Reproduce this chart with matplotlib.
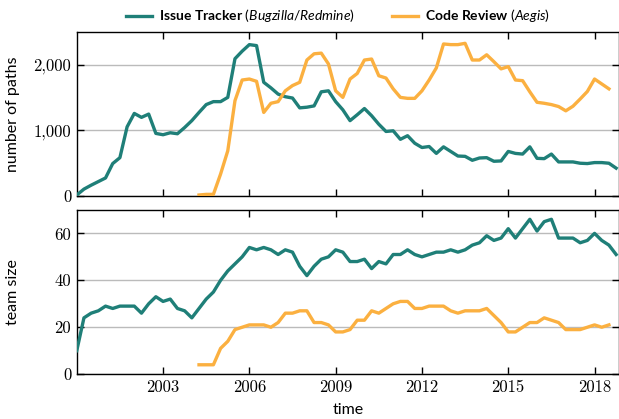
import numpy as np
import matplotlib
matplotlib.use('Agg')
import matplotlib.pyplot as plt
from matplotlib.ticker import FuncFormatter

plt.rcParams['font.family'] = ['Lato', 'DejaVu Sans']
plt.rcParams['mathtext.fontset'] = 'custom'
plt.rcParams['mathtext.rm'] = 'Lato'
plt.rcParams['mathtext.bf'] = 'Lato:bold'
plt.rcParams['mathtext.it'] = 'Lato:italic'

# quarterly data, 2000 Q1 .. 2018 Q4
start_year = 2000
cr_start = 17  # code review data begins at this quarter

tracker_paths = [10, 100, 160, 215, 270, 490, 580, 1050, 1255, 1195,
                 1245, 950, 930, 960, 945, 1040, 1145, 1270, 1390, 1435,
                 1435, 1500, 2090, 2205, 2305, 2290, 1730, 1645, 1550, 1510,
                 1490, 1340, 1350, 1370, 1585, 1600, 1435, 1310, 1145, 1235,
                 1330, 1220, 1090, 980, 990, 860, 915, 800, 735, 750,
                 645, 745, 675, 605, 600, 540, 575, 580, 525, 530,
                 675, 645, 635, 745, 570, 565, 635, 515, 515, 515,
                 495, 490, 505, 505, 495, 420]
review_paths = [10, 20, 20, 330, 685, 1450, 1765, 1780, 1745, 1270,
                1410, 1435, 1600, 1680, 1730, 2070, 2165, 2175, 2010, 1600,
                1500, 1780, 1865, 2070, 2085, 1830, 1795, 1630, 1500, 1485,
                1485, 1600, 1765, 1950, 2315, 2305, 2305, 2325, 2070, 2070,
                2150, 2045, 1935, 1970, 1765, 1755, 1585, 1425, 1410, 1390,
                1360, 1295, 1365, 1475, 1590, 1780, 1705, 1630]
tracker_team = [10, 24, 26, 27, 29, 28, 29, 29, 29, 26,
                30, 33, 31, 32, 28, 27, 24, 28, 32, 35,
                40, 44, 47, 50, 54, 53, 54, 53, 51, 53,
                52, 46, 42, 46, 49, 50, 53, 52, 48, 48,
                49, 45, 48, 47, 51, 51, 53, 51, 50, 51,
                52, 52, 53, 52, 53, 55, 56, 59, 57, 58,
                62, 58, 62, 66, 61, 65, 66, 58, 58, 58,
                56, 57, 60, 57, 55, 51]
review_team = [4, 4, 4, 11, 14, 19, 20, 21, 21, 21,
               20, 22, 26, 26, 27, 27, 22, 22, 21, 18,
               18, 19, 23, 23, 27, 26, 28, 30, 31, 31,
               28, 28, 29, 29, 29, 27, 26, 27, 27, 27,
               28, 25, 22, 18, 18, 20, 22, 22, 24, 23,
               22, 19, 19, 19, 20, 21, 20, 21]
year_ticks = [2003, 2006, 2009, 2012, 2015, 2018]

t_tracker = start_year + 0.25 * np.arange(len(tracker_paths))
t_review = start_year + 0.25 * (cr_start + np.arange(len(review_paths)))

teal = '#1f7f78'
orange = '#fbb040'

fig = plt.figure(figsize=(6.19, 4.19), dpi=100)
ax1 = fig.add_axes([0.124, 0.533, 0.876, 0.391])
ax2 = fig.add_axes([0.124, 0.107, 0.876, 0.392])

l1, = ax1.plot(t_tracker, tracker_paths, color=teal, lw=2.4, zorder=3)
l2, = ax1.plot(t_review, review_paths, color=orange, lw=2.4, zorder=3)
ax2.plot(t_tracker, tracker_team, color=teal, lw=2.4, zorder=3)
ax2.plot(t_review, review_team, color=orange, lw=2.4, zorder=3)

ax1.set_ylim(0, 2500)
ax1.set_yticks([0, 1000, 2000])
ax1.yaxis.set_major_formatter(FuncFormatter(lambda v, p: f'{int(v):,}'))
ax2.set_ylim(0, 70)
ax2.set_yticks([0, 20, 40, 60])

for ax in (ax1, ax2):
    ax.set_xlim(2000, 2018.85)
    ax.set_xticks(year_ticks)
    ax.grid(axis='y', color='#bbbbbb', lw=1)
    ax.set_axisbelow(True)
    ax.tick_params(direction='in', length=5, width=1, top=True, right=True,
                   labelsize=12, labelfontfamily='cmr10', pad=4)
    for s in ax.spines.values():
        s.set_linewidth(1)
ax1.tick_params(labelbottom=False)

ax1.set_ylabel('number of paths', fontsize=11.5)
ax2.set_ylabel('team size', fontsize=11.5)
ax2.set_xlabel('time', fontsize=11.5, labelpad=6)
ax1.yaxis.set_label_coords(-0.105, 0.5)
ax2.yaxis.set_label_coords(-0.105, 0.5)

fig.legend([l1, l2],
           [r'$\mathbf{Issue\ Tracker}$ $\mathit{(Bugzilla/Redmine)}$',
            r'$\mathbf{Code\ Review}$ $\mathit{(Aegis)}$'],
           loc='upper center', bbox_to_anchor=(0.546, 1.012), ncol=2,
           frameon=False, fontsize=10, handlelength=1.9, columnspacing=2.6,
           handletextpad=0.5)

fig.savefig('out.png', dpi=100)
